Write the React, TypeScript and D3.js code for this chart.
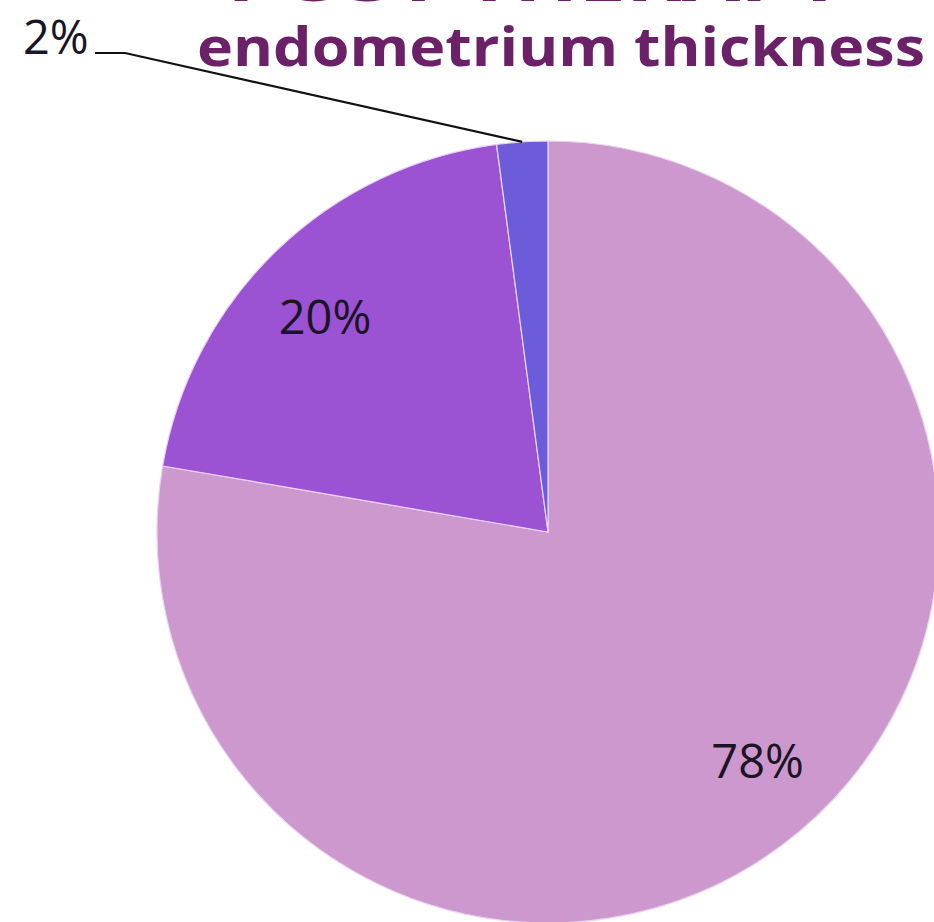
import React from "react";
import * as d3 from "d3";

const categories = ["A", "B", "C"];
const values = [77.7, 20.2, 2.1];
const labels = ["78%", "20%", "2%"];
const colors = ["#cd98cd", "#9b52d3", "#6c5cd9"];
const titleLines = ["POST THERAPY -", "endometrium thickness"];

const W = 934;
const H = 922;
const cx = 548;
const cy = 532;
const R = 391;

export default function App() {
  const pie = d3.pie<number>().sort(null).value((d) => d)(values);
  const arc = d3.arc<d3.PieArcDatum<number>>().innerRadius(0).outerRadius(R);
  const labelArc = d3
    .arc<d3.PieArcDatum<number>>()
    .innerRadius(R * 0.8)
    .outerRadius(R * 0.8);
  const edgeArc = d3
    .arc<d3.PieArcDatum<number>>()
    .innerRadius(R)
    .outerRadius(R);

  const small = pie[2];
  const [ex, ey] = edgeArc.centroid(small);
  const leaderMid: [number, number] = [125 - cx, 53 - cy];
  const leaderEnd: [number, number] = [95 - cx, 53 - cy];
  const nudges = [
    [8, -10],
    [-6, 10],
  ];

  return (
    <div style={{ position: "fixed", left: 0, top: 0, width: W, height: H, background: "#fff" }}>
      <svg width={W} height={H} style={{ display: "block" }}>
        <g transform={`translate(${cx},${cy})`}>
          {pie.map((p, i) => (
            <path
              key={categories[i]}
              d={arc(p) || ""}
              fill={colors[i]}
              stroke="#e9d3f2"
              strokeWidth={1.2}
            />
          ))}
          {pie.slice(0, 2).map((p, i) => {
            const [lx, ly] = labelArc.centroid(p);
            return (
              <text
                key={labels[i]}
                x={lx + nudges[i][0]}
                y={ly + nudges[i][1] + 17}
                textAnchor="middle"
                fontFamily="'Open Sans', 'DejaVu Sans', sans-serif"
                fontSize={47}
                fill="#1a1424"
              >
                {labels[i]}
              </text>
            );
          })}
          <polyline
            points={`${ex},${ey} ${leaderMid[0]},${leaderMid[1]} ${leaderEnd[0]},${leaderEnd[1]}`}
            fill="none"
            stroke="#111"
            strokeWidth={2.2}
          />
          <text
            x={23 - cx}
            y={54 - cy}
            textAnchor="start"
            fontFamily="'Open Sans', 'DejaVu Sans', sans-serif"
            fontSize={47}
            fill="#1a1424"
          >
            {labels[2]}
          </text>
        </g>
        <text
          x={561}
          y={1}
          textAnchor="middle"
          fontFamily="'Open Sans', sans-serif"
          fontWeight={700}
          fontSize={54}
          fill="#6a2168"
          textLength={668}
          lengthAdjust="spacingAndGlyphs"
        >
          {titleLines[0]}
        </text>
        <text
          x={561}
          y={66}
          textAnchor="middle"
          fontFamily="'Open Sans', sans-serif"
          fontWeight={700}
          fontSize={54}
          fill="#6a2168"
          textLength={728}
          lengthAdjust="spacingAndGlyphs"
        >
          {titleLines[1]}
        </text>
      </svg>
    </div>
  );
}
